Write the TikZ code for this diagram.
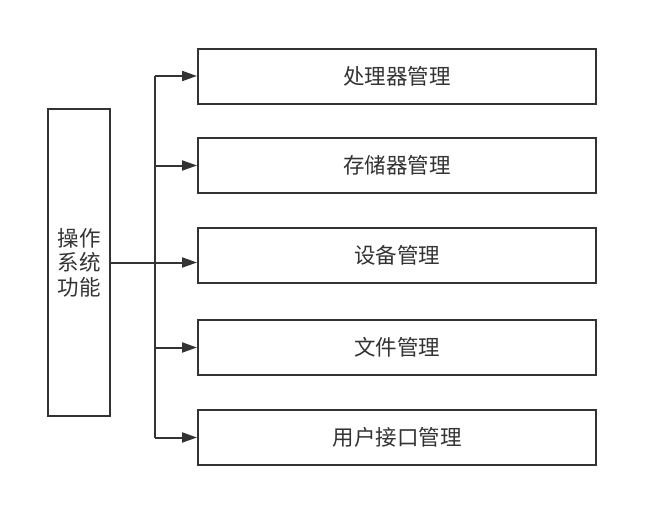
\documentclass[tikz,border=0pt]{standalone}
\usepackage{fontspec}
\newfontfamily\cjk{Noto Sans CJK SC}
\usetikzlibrary{arrows.meta,positioning}
\definecolor{ink}{HTML}{333333}
\tikzset{
    %Define standard arrow tip
    >={Triangle[length=15pt,width=10pt]},
    %Define style for boxes
    kuang/.style={
		rectangle,
		draw=ink, line width=2pt,
		text=ink,
		font=\cjk\fontsize{21.5}{24.5}\selectfont,
		inner sep=0pt,
		text centered},
	part/.style={
		kuang,
		minimum width=398pt,
		minimum height=55pt},
	line/.style = {
		draw=ink,
		line width=2pt},
	arrow/.style = {
		line,
		->}
}
\begin{document}
\begin{tikzpicture}[x=1pt,y=-1pt]
			\useasboundingbox (0,0) rectangle (659,528);
			\node[kuang, minimum width=62pt, minimum height=307pt, align=center] (os) at (79,262.5) {操作\\系统\\功能};
			\node[part] (cpu)	at (397,76)	{处理器管理};
			\node[part] (mem)	at (397,165.5)	{存储器管理};
			\node[part] (dev)	at (397,255)	{设备管理};
			\node[part] (file)	at (397,347.5)	{文件管理};
			\node[part] (user)	at (397,437.5)	{用户接口管理};
			\coordinate (fork) at (155,262.5);
			\path[line]	(fork |- cpu.west)--(fork |- user.west);
			\path[arrow]	(os.east)--(dev.west |- os.east);
			\path[arrow]	(fork |- cpu.west)--(cpu.west);
			\path[arrow]	(fork |- mem.west)--(mem.west);
			\path[arrow]	(fork |- file.west)--(file.west);
			\path[arrow]	(fork |- user.west)--(user.west);
		\end{tikzpicture}
\end{document}
